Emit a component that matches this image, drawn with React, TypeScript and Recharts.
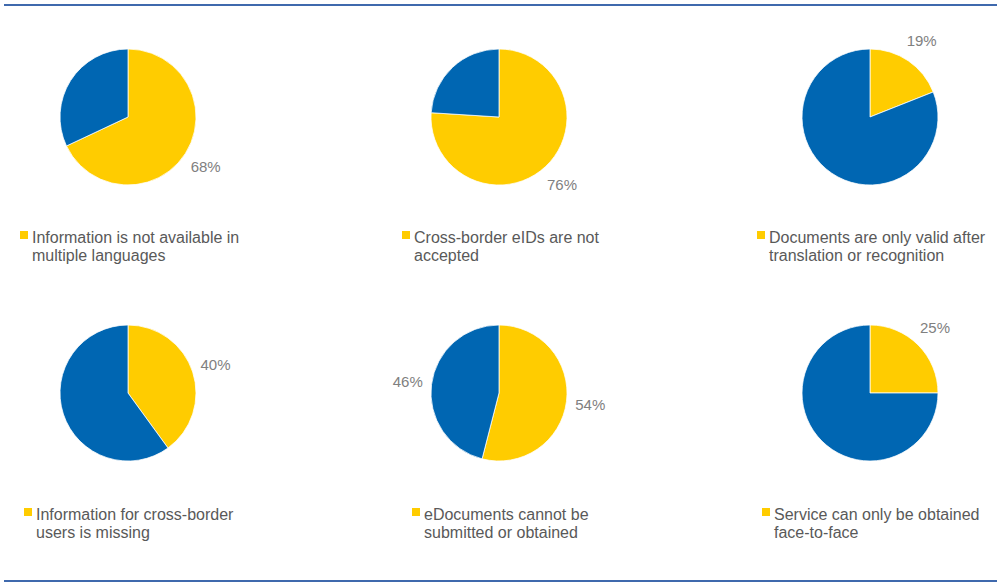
import React from 'react';
import { PieChart, Pie, Cell } from 'recharts';

const categories = [
  'Information is not available in multiple languages',
  'Cross-border eIDs are not accepted',
  'Documents are only valid after translation or recognition',
  'Information for cross-border users is missing',
  'eDocuments cannot be submitted or obtained',
  'Service can only be obtained face-to-face',
];
const yesValues = [68, 76, 19, 40, 54, 25];
const noValues = [32, 24, 81, 60, 46, 75];
const showNoLabel = [false, false, false, false, true, false];

const YELLOW = '#FFCC00';
const BLUE = '#0066B2';
const FONT = '"Liberation Sans", Arial, Helvetica, sans-serif';

// layout: pie centres and legend positions
const centersX = [128, 499, 870, 128, 499, 870];
const centersY = [117, 117, 117, 393, 393, 393];
const legendX = [20, 402, 757, 24, 412, 762];
const legendY = [229, 229, 229, 506, 506, 506];

const BOX_W = 240;
const BOX_H = 224;
const RAD = Math.PI / 180;

function makeLabel(chartIdx: number) {
  return (props: any) => {
    const { cx, cy, midAngle, outerRadius, index, value } = props;
    if (index === 1 && !showNoLabel[chartIdx]) return null;
    const r = outerRadius + 24;
    const x = cx + r * Math.cos(-midAngle * RAD);
    const y = cy + r * Math.sin(-midAngle * RAD);
    return (
      <text
        x={x}
        y={y}
        fill="#808080"
        fontSize={15}
        fontFamily={FONT}
        textAnchor="middle"
        dominantBaseline="central"
      >
        {`${value}%`}
      </text>
    );
  };
}

export default function App() {
  return (
    <div
      style={{
        position: 'absolute',
        left: 0,
        top: 0,
        width: 997,
        height: 584,
        background: '#fff',
        fontFamily: FONT,
      }}
    >
      <div style={{ position: 'absolute', left: 4, right: 0, top: 4, height: 2, background: '#3F69AD' }} />
      <div style={{ position: 'absolute', left: 4, right: 0, top: 580, height: 2, background: '#3F69AD' }} />
      {categories.map((cat, i) => {
        const data = [
          { name: cat, value: yesValues[i] },
          { name: 'Other', value: noValues[i] },
        ];
        return (
          <div
            key={`pie-${i}`}
            style={{
              position: 'absolute',
              left: centersX[i] - BOX_W / 2,
              top: centersY[i] - BOX_H / 2,
              width: BOX_W,
              height: BOX_H,
            }}
          >
            <PieChart width={BOX_W} height={BOX_H} margin={{ top: 0, right: 0, bottom: 0, left: 0 }}>
              <Pie
                data={data}
                dataKey="value"
                nameKey="name"
                cx="50%"
                cy="50%"
                outerRadius={68}
                startAngle={90}
                endAngle={-270}
                stroke="#ffffff"
                strokeWidth={0.75}
                label={makeLabel(i)}
                labelLine={false}
                isAnimationActive={false}
              >
                <Cell fill={YELLOW} />
                <Cell fill={BLUE} />
              </Pie>
            </PieChart>
          </div>
        );
      })}
      {categories.map((cat, i) => (
        <div
          key={`leg-${i}`}
          style={{
            position: 'absolute',
            left: legendX[i],
            top: legendY[i],
            width: 240,
            display: 'flex',
            alignItems: 'flex-start',
          }}
        >
          <div
            style={{
              width: 7.5,
              height: 7.5,
              background: YELLOW,
              marginTop: 2,
              marginRight: 4.5,
              flexShrink: 0,
            }}
          />
          <div
            style={{
              width: 228,
              fontSize: 16,
              lineHeight: '17.5px',
              color: '#595959',
            }}
          >
            {cat}
          </div>
        </div>
      ))}
    </div>
  );
}
